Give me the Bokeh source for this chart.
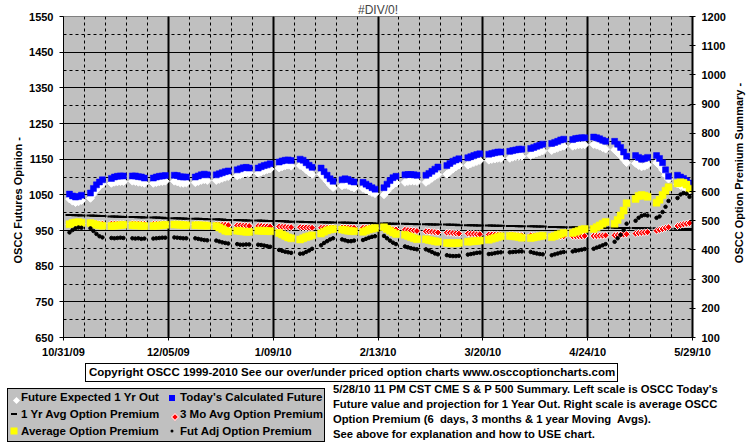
import numpy as np
import pandas as pd
from bokeh.plotting import figure
from bokeh.layouts import column, row
from bokeh.models import Range1d, LinearAxis, FixedTicker, Title, Div
from bokeh.embed import file_html
from bokeh.resources import INLINE

# ---------------- data ----------------
start_date = "2009-10-31"
first_day, last_day = "2009-11-02", "2010-05-28"
tick_dates = ["2009-10-31", "2009-12-05", "2010-01-09", "2010-02-13",
              "2010-03-20", "2010-04-24", "2010-05-29"]
tick_labels = ["10/31/09", "12/05/09", "1/09/10", "2/13/10", "3/20/10", "4/24/10", "5/29/10"]
left_ticks = [650, 750, 850, 950, 1050, 1150, 1250, 1350, 1450, 1550]
left_minor = [700, 800, 900, 1000, 1100, 1200, 1300, 1400, 1500]
right_ticks = [100, 200, 300, 400, 500, 600, 700, 800, 900, 1000, 1100, 1200]

title_text = "#DIV/0!"
left_title = "OSCC Futures Opinion -"
right_title = "OSCC Option Premium Summary -"
copyright_text = "Copyright OSCC 1999-2010 See our over/under priced option charts www.osccoptioncharts.com"
note_lines = [
    "5/28/10 11 PM CST CME S &amp; P 500 Summary. Left scale is OSCC Today's",
    "Future value and projection for 1 Year Out. Right scale is average OSCC",
    "Option Premium (6  days, 3 months &amp; 1 year Moving  Avgs).",
    "See above for explanation and how to USE chart.",
]
series_names = ["Future Expected 1 Yr Out", "Today's Calculated Future",
                "1 Yr Avg Option Premium", "3 Mo Avg Option Premium",
                "Average Option Premium", "Fut Adj Option Premium"]

# Today's Calculated Future (left scale)
today_future = [
    1052, 1047, 1044, 1045, 1049,  1055, 1068, 1078, 1086, 1092,
    1096, 1100, 1102, 1103, 1103,  1103, 1103, 1101, 1100, 1097,
    1097, 1100, 1102, 1103, 1104,  1105, 1104, 1101, 1100, 1100,
    1100, 1103, 1106, 1108, 1106,  1106, 1109, 1112, 1115, 1117,
    1120, 1123, 1126, 1127, 1125,  1125, 1129, 1132, 1134, 1137,
    1142, 1145, 1147, 1148, 1146,  1150, 1147, 1140, 1133, 1127,
    1125, 1115, 1105, 1095, 1088,  1092, 1095, 1093, 1088, 1086,
    1085, 1080, 1075, 1070, 1066,  1070, 1080, 1090, 1098, 1102,
    1106, 1107, 1107, 1106, 1105,  1105, 1110, 1116, 1122, 1128,
    1132, 1138, 1144, 1148, 1151,  1154, 1157, 1160, 1163, 1165,
    1164, 1166, 1168, 1170, 1170,  1172, 1174, 1176, 1178, 1178,
    1180, 1183, 1186, 1189, 1192,  1194, 1197, 1200, 1204, 1206,
    1205, 1208, 1209, 1210, 1210,  1212, 1210, 1207, 1203, 1200,
    1200, 1192, 1183, 1170, 1158,  1160, 1155, 1150, 1152, 1155,
    1160, 1152, 1140, 1120, 1102,  1105, 1100, 1096, 1090, 1083,
]
# Future Expected 1 Yr Out (left scale)
future_1yr = [
    1038, 1032, 1028, 1030, 1034,  1040, 1052, 1064, 1074, 1080,
    1082, 1085, 1086, 1087, 1087,  1088, 1087, 1085, 1084, 1082,
    1082, 1084, 1086, 1087, 1088,  1088, 1086, 1083, 1082, 1083,
    1084, 1087, 1090, 1092, 1090,  1090, 1093, 1096, 1099, 1101,
    1103, 1106, 1109, 1111, 1111,  1110, 1114, 1117, 1120, 1122,
    1125, 1128, 1131, 1133, 1130,  1132, 1128, 1120, 1113, 1107,
    1108, 1098, 1088, 1078, 1070,  1075, 1078, 1076, 1072, 1069,
    1068, 1064, 1060, 1056, 1053,  1050, 1060, 1070, 1078, 1083,
    1085, 1087, 1088, 1088, 1087,  1085, 1090, 1096, 1102, 1107,
    1108, 1115, 1122, 1128, 1133,  1133, 1137, 1140, 1143, 1146,
    1147, 1149, 1150, 1152, 1152,  1152, 1155, 1157, 1158, 1158,
    1160, 1164, 1167, 1170, 1173,  1174, 1178, 1181, 1184, 1186,
    1186, 1188, 1190, 1190, 1190,  1191, 1189, 1186, 1182, 1178,
    1176, 1168, 1160, 1150, 1140,  1138, 1132, 1128, 1130, 1134,
    1140, 1132, 1120, 1105, 1094,  1080, 1076, 1072, 1068, 1064,
]
# 1 Yr Avg Option Premium (right scale)
avg_1yr = [
    520, 520, 519, 519, 518,  518, 517, 517, 516, 516,
    515, 515, 514, 514, 513,  513, 513, 512, 512, 511,
    511, 511, 510, 510, 509,  509, 509, 508, 508, 507,
    507, 507, 506, 506, 505,  505, 504, 504, 503, 503,
    503, 502, 502, 501, 501,  501, 500, 500, 499, 499,
    499, 498, 498, 497, 497,  497, 496, 496, 496, 495,
    495, 495, 494, 494, 494,  494, 493, 493, 493, 492,
    492, 492, 492, 491, 491,  491, 491, 490, 490, 490,
    490, 489, 489, 489, 488,  488, 488, 487, 487, 487,
    487, 486, 486, 486, 485,  485, 485, 485, 484, 484,
    484, 484, 483, 483, 483,  482, 482, 482, 481, 481,
    481, 481, 480, 480, 480,  479, 479, 479, 478, 478,
    478, 478, 477, 477, 477,  477, 476, 476, 476, 476,
    476, 475, 475, 475, 475,  475, 474, 474, 474, 474,
    474, 473, 473, 473, 473,  473, 472, 472, 472, 472,
]
# 3 Mo Avg Option Premium (right scale)
avg_3mo = [
    488, 489, 490, 491, 491,  491, 491, 491, 490, 490,
    490, 490, 490, 490, 490,  490, 490, 490, 489, 489,
    489, 489, 489, 489, 489,  489, 489, 489, 488, 488,
    488, 488, 487, 487, 487,  487, 487, 486, 486, 485,
    484, 484, 483, 483, 482,  482, 482, 481, 481, 480,
    480, 479, 479, 478, 478,  478, 477, 477, 476, 476,
    476, 476, 476, 477, 477,  477, 477, 476, 476, 476,
    476, 476, 476, 476, 475,  474, 473, 472, 471, 470,
    469, 468, 467, 466, 465,  464, 463, 462, 461, 460,
    459, 459, 458, 457, 456,  456, 455, 455, 454, 454,
    453, 453, 452, 452, 451,  451, 451, 450, 450, 450,
    450, 449, 449, 449, 449,  448, 448, 448, 447, 447,
    447, 447, 447, 447, 448,  448, 448, 449, 449, 450,
    450, 451, 452, 453, 454,  456, 458, 459, 460, 461,
    466, 469, 472, 475, 478,  482, 485, 488, 490, 492,
]
# Average Option Premium (right scale)
avg_premium = [
    488, 492, 494, 495, 493,  492, 489, 486, 484, 483,
    482, 483, 484, 485, 486,  485, 484, 484, 483, 482,
    482, 483, 484, 485, 486,  487, 487, 486, 485, 485,
    485, 485, 484, 484, 483,  482, 477, 472, 466, 463,
    466, 465, 463, 462, 462,  466, 466, 465, 465, 464,
    458, 453, 448, 443, 440,  436, 440, 444, 447, 450,
    456, 462, 467, 470, 472,  470, 468, 466, 465, 464,
    462, 466, 470, 473, 475,  478, 472, 466, 460, 455,
    452, 448, 444, 440, 437,  437, 434, 432, 430, 428,
    424, 423, 423, 423, 424,  428, 429, 430, 431, 432,
    435, 438, 441, 444, 447,  448, 447, 446, 444, 442,
    441, 443, 445, 447, 449,  444, 448, 452, 455, 458,
    458, 462, 466, 470, 472,  472, 478, 484, 490, 496,
    490, 503, 518, 535, 560,  575, 585, 588, 586, 582,
    562, 572, 588, 603, 615,  628, 632, 630, 624, 610,
]
# Fut Adj Option Premium (right scale)
fut_adj = [
    460, 468, 474, 477, 476,  474, 465, 455, 447, 443,
    441, 440, 441, 442, 441,  440, 439, 440, 438, 439,
    439, 440, 441, 442, 442,  443, 442, 441, 440, 440,
    440, 438, 436, 434, 433,  432, 429, 426, 424, 422,
    420, 418, 418, 419, 419,  418, 417, 415, 413, 411,
    400, 397, 394, 392, 390,  387, 388, 393, 398, 404,
    416, 424, 430, 436, 440,  436, 433, 430, 430, 432,
    434, 438, 442, 445, 447,  448, 440, 432, 425, 420,
    412, 409, 406, 404, 402,  402, 398, 393, 388, 385,
    382, 380, 379, 379, 380,  384, 386, 388, 390, 391,
    386, 387, 389, 391, 392,  392, 393, 394, 395, 395,
    393, 390, 388, 386, 385,  382, 385, 388, 391, 393,
    395, 397, 399, 401, 403,  404, 408, 412, 416, 420,
    428, 440, 452, 468, 490,  500, 510, 517, 520, 518,
    510, 515, 530, 548, 568,  578, 590, 595, 593, 582,
]

# ---------------- positions from dates ----------------
t0 = pd.Timestamp(start_date)
days = pd.bdate_range(first_day, last_day)
xs = np.array([(d - t0).days for d in days], dtype=float)
major_x = [(pd.Timestamp(d) - t0).days for d in tick_dates]
weekly_x = list(range(major_x[0], major_x[-1] + 1, 7))

FONT = "Liberation Sans"

def css_font(size):
    return (f"font-family:'Liberation Sans',Arial,sans-serif;font-size:{size}px;"
            "font-weight:bold;color:black;")

W, H = 755, 446
W1, H1 = 728, 361          # main chart figure
WR = W - W1                # strip right of it (right-hand axis title)
H2 = H - H1                # band under it (copyright, legend, notes)

styles = [
    dict(marker="square", angle=np.pi / 4, size=5.5, fill_color="white", line_color="white", line_width=1),
    dict(marker="square", size=6, fill_color="#0000FF", line_color="#0000FF", line_width=0.5),
    dict(marker="dash", size=8, line_color="black", line_width=2),
    dict(marker="square", angle=np.pi / 4, size=5, fill_color="#FF0000", line_color="white", line_width=1),
    dict(marker="square", size=7, fill_color="#FFFF00", line_color="#FFFF00", line_width=0.5),
    dict(marker="circle", size=3.5, fill_color="black", line_color="black"),
]
series_values = [future_1yr, today_future, avg_1yr, avg_3mo, avg_premium, fut_adj]
series_axis = ["default", "default", "right", "right", "right", "right"]

# ---------------- main chart ----------------
p = figure(width=W1, height=H1, output_backend="svg", toolbar_location=None,
           title=title_text,
           x_range=Range1d(major_x[0], major_x[-1]),
           y_range=Range1d(left_ticks[0], left_ticks[-1]),
           min_border_left=63, min_border_right=W1 - 693, min_border_top=15, min_border_bottom=24)
p.extra_y_ranges = {"right": Range1d(right_ticks[0], right_ticks[-1])}
p.background_fill_color = "#C0C0C0"
p.border_fill_color = "white"
p.outline_line_color = "#808080"
p.outline_line_width = 1

p.title.align = "center"
p.title.text_font = FONT
p.title.text_font_size = "12px"
p.title.text_font_style = "normal"
p.title.standoff = 0

p.xgrid.ticker = FixedTicker(ticks=major_x[1:-1], minor_ticks=weekly_x)
p.xgrid.grid_line_color = "black"
p.xgrid.grid_line_width = 2
p.xgrid.minor_grid_line_color = "black"
p.xgrid.minor_grid_line_dash = "3 3"
p.xgrid.minor_grid_line_width = 1
p.ygrid.ticker = FixedTicker(ticks=left_ticks[1:-1], minor_ticks=left_minor)
p.ygrid.grid_line_color = "black"
p.ygrid.grid_line_width = 1
p.ygrid.minor_grid_line_color = "black"
p.ygrid.minor_grid_line_dash = "3 3"
p.ygrid.minor_grid_line_width = 1

def style_axis(ax):
    ax.major_label_text_font = FONT
    ax.major_label_text_font_style = "bold"
    ax.major_label_text_font_size = "11px"
    ax.major_label_text_color = "black"
    ax.axis_line_color = "black"
    ax.major_tick_line_color = "black"
    ax.minor_tick_line_color = "black"

xa = p.xaxis[0]
xa.ticker = FixedTicker(ticks=major_x, minor_ticks=weekly_x)
xa.major_label_overrides = {int(x): lab for x, lab in zip(major_x, tick_labels)}
style_axis(xa)
xa.major_tick_out = 3
xa.major_tick_in = 0
xa.minor_tick_out = 0
xa.minor_tick_in = 3
xa.major_label_standoff = 5

ya = p.yaxis[0]
ya.ticker = FixedTicker(ticks=left_ticks)
style_axis(ya)
ya.major_tick_out = 4
ya.major_tick_in = 0
ya.minor_tick_out = 0
ya.minor_tick_in = 0
ya.major_label_standoff = 6

ra = LinearAxis(y_range_name="right", ticker=FixedTicker(ticks=right_ticks))
style_axis(ra)
ra.axis_line_width = 2
ra.major_tick_out = 3
ra.major_tick_in = 3
ra.minor_tick_out = 0
ra.minor_tick_in = 0
ra.major_label_standoff = 6
p.add_layout(ra, "right")

lt = Title(text=left_title, align="left", offset=74, standoff=5,
           text_font=FONT, text_font_size="11px", text_font_style="bold", text_color="black")
p.add_layout(lt, "left")

for vals, st, ax in zip(series_values, styles, series_axis):
    kw = dict(st)
    if ax != "default":
        kw["y_range_name"] = ax
    p.scatter(xs, vals, **kw)

# ---------------- right-hand axis title strip ----------------
right_html = (
    f'<div style="position:relative;width:{WR}px;height:{H1}px;overflow:visible;">'
    f'<div style="position:absolute;left:{740 - W1}px;top:173px;white-space:nowrap;'
    f'transform:translate(-50%,-50%) rotate(-90deg);{css_font(11)}">{right_title}</div></div>'
)
right_div = Div(text=right_html, width=WR, height=H1, margin=0)

# ---------------- band under the chart ----------------
def box(left, top, w, h, extra=""):
    return (f'<div style="position:absolute;left:{left}px;top:{top}px;width:{w}px;height:{h}px;'
            f'box-sizing:border-box;{extra}"></div>')

def text(left, top, s, size=11, extra=""):
    return (f'<div style="position:absolute;left:{left}px;top:{top}px;white-space:pre;'
            f'line-height:15px;{css_font(size)}{extra}">{s}</div>')

y0 = H1
parts = []
# copyright box
parts.append(box(85, 363 - y0, 533, 19, "border:1px solid black;background:white;"))
parts.append(text(89, 372 - y0 - 7.5, copyright_text, size=11.5))
# legend box
parts.append(box(7, 388 - y0, 318, 54, "border:1px solid black;background:#C0C0C0;"))
row_y = [397.7, 414.3, 431.0]
col_glyph_x = [14, 172]
col_text_x = [21, 180]
swatches = [
    "width:5px;height:5px;background:white;transform:rotate(45deg);",
    "width:6px;height:6px;background:#0000FF;",
    "width:6px;height:2px;background:black;",
    "width:4px;height:4px;background:#FF0000;border:1px solid white;transform:rotate(45deg);box-sizing:content-box;",
    "width:7px;height:7px;background:#FFFF00;",
    "width:3px;height:3px;background:black;border-radius:50%;",
]
for i, name in enumerate(series_names):
    r, c = divmod(i, 2)
    cy = row_y[r] - y0
    parts.append(f'<div style="position:absolute;left:{col_glyph_x[c]}px;top:{cy}px;'
                 f'transform:translate(-50%,-50%);{swatches[i]}"></div>')
    parts.append(text(col_text_x[c], cy - 7.5, name.replace("'", "&#39;"), size=11.5))
# notes
for i, line in enumerate(note_lines):
    cy = 389.3 + 14.9 * i - y0
    parts.append(text(333, cy - 7.5, line, size=11.25))

band_html = (f'<div style="position:relative;width:{W}px;height:{H2}px;overflow:hidden;">'
             + "".join(parts) + "</div>")
band_div = Div(text=band_html, width=W, height=H2, margin=0)

root = column(row(p, right_div, spacing=0), band_div, spacing=0)
open("out.html", "w").write(file_html(root, INLINE))
